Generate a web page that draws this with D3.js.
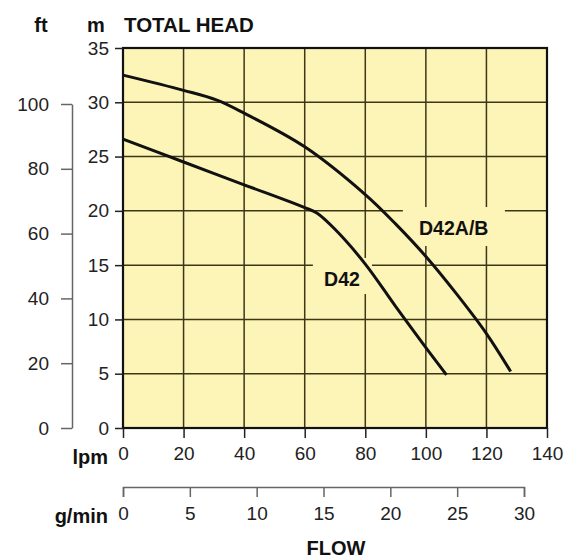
<!DOCTYPE html>
<html>
<head>
<meta charset="utf-8">
<script src="https://cdn.jsdelivr.net/npm/d3@7"></script>
<style>
  body { margin: 0; background: #fff; }
  svg { display: block; font-family: "Liberation Sans", Arial, sans-serif; }
</style>
</head>
<body>
<svg></svg>
<script>
const width = 573;
const height = 558;

const lpmTicks = [0, 20, 40, 60, 80, 100, 120, 140];
const headTicks = [0, 5, 10, 15, 20, 25, 30, 35];
const ftTicks = [0, 20, 40, 60, 80, 100];
const galTicks = [0, 5, 10, 15, 20, 25, 30];

const d42Flow = [0, 20, 40, 60, 64, 70, 80, 90, 100, 106.8];
const d42Head = [26.6, 24.5, 22.4, 20.3, 19.8, 18.3, 15.1, 11.2, 7.4, 4.9];
const d42abFlow = [0, 20, 31, 40, 60, 80, 90, 100, 110, 120, 128];
const d42abHead = [32.5, 31.1, 30.2, 29.0, 25.9, 21.5, 18.8, 15.8, 12.4, 8.7, 5.2];

const seriesNames = ['D42', 'D42A/B'];
const seriesFlow = [d42Flow, d42abFlow];
const seriesHead = [d42Head, d42abHead];
// label anchor (lpm, m) and grid gap box behind each label
const labelPos = [[72.3, 13.1], [109.2, 17.8]];
const gapBox = [[62.7, 82.2, 12.34, 15.66], [92.4, 126.1, 16.76, 20.35]];

const plotLeft = 123, plotRight = 547, plotTop = 48, plotBottom = 428;
const gridColor = '#3d3617';
const axisGrey = '#666';
const fillColor = '#fdf4b8';

window.onload = () => {
  const svg = d3.select('svg')
      .attr('width', width)
      .attr('height', height);

  const x = d3.scaleLinear().domain([0, 140]).range([plotLeft, plotRight]);
  const y = d3.scaleLinear().domain([0, 35]).range([plotBottom, plotTop]);
  const yFt = d3.scaleLinear().domain([0, 100]).range([plotBottom, 104]);
  const xGal = d3.scaleLinear().domain([0, 30]).range([plotLeft, 524]);

  // plot background
  svg.append('rect')
      .attr('x', plotLeft)
      .attr('y', plotTop)
      .attr('width', plotRight - plotLeft)
      .attr('height', plotBottom - plotTop)
      .attr('fill', fillColor);

  // grid
  svg.append('g')
    .selectAll('line')
    .data(lpmTicks.slice(1, -1))
    .join('line')
      .attr('x1', d => x(d)).attr('x2', d => x(d))
      .attr('y1', plotTop).attr('y2', plotBottom)
      .attr('stroke', gridColor)
      .attr('stroke-width', 1.5);

  svg.append('g')
    .selectAll('line')
    .data(headTicks.slice(1, -1))
    .join('line')
      .attr('x1', plotLeft).attr('x2', plotRight)
      .attr('y1', d => y(d)).attr('y2', d => y(d))
      .attr('stroke', gridColor)
      .attr('stroke-width', 1.5);

  // gaps in grid behind curve labels
  svg.append('g')
    .selectAll('rect')
    .data(gapBox)
    .join('rect')
      .attr('x', d => x(d[0]))
      .attr('width', d => x(d[1]) - x(d[0]))
      .attr('y', d => y(d[3]))
      .attr('height', d => y(d[2]) - y(d[3]))
      .attr('fill', fillColor);

  // frame
  svg.append('rect')
      .attr('x', plotLeft)
      .attr('y', plotTop)
      .attr('width', plotRight - plotLeft)
      .attr('height', plotBottom - plotTop)
      .attr('fill', 'none')
      .attr('stroke', '#111')
      .attr('stroke-width', 2.2);

  // head axis (m)
  const yAxis = svg.append('g')
      .attr('transform', `translate(${plotLeft},0)`)
      .call(d3.axisLeft(y).tickValues(headTicks).tickSize(8).tickPadding(6));
  yAxis.select('.domain').remove();
  yAxis.selectAll('line').attr('stroke', '#222').attr('stroke-width', 1.5);
  yAxis.selectAll('text')
      .attr('font-size', 19)
      .attr('fill', '#222')
      .attr('font-family', '"Liberation Sans", Arial, sans-serif');

  // ft axis
  const ftAxis = svg.append('g')
      .attr('transform', 'translate(72,0)')
      .call(d3.axisLeft(yFt).tickValues(ftTicks).tickSize(11).tickPadding(12).tickSizeOuter(0));
  ftAxis.select('.domain').attr('stroke', axisGrey).attr('stroke-width', 1.5);
  ftAxis.selectAll('line').attr('stroke', axisGrey).attr('stroke-width', 1.5);
  ftAxis.selectAll('text')
      .attr('font-size', 19)
      .attr('fill', '#222')
      .attr('font-family', '"Liberation Sans", Arial, sans-serif');

  // lpm axis
  const xAxis = svg.append('g')
      .attr('transform', `translate(0,${plotBottom})`)
      .call(d3.axisBottom(x).tickValues(lpmTicks).tickSize(10).tickPadding(9));
  xAxis.select('.domain').remove();
  xAxis.selectAll('line').attr('stroke', '#222').attr('stroke-width', 1.5);
  xAxis.selectAll('text')
      .attr('font-size', 19)
      .attr('fill', '#222')
      .attr('font-family', '"Liberation Sans", Arial, sans-serif');

  // g/min axis
  const galAxis = svg.append('g')
      .attr('transform', 'translate(0,487)')
      .call(d3.axisBottom(xGal).tickValues(galTicks).tickSize(10).tickSizeOuter(10).tickPadding(10));
  galAxis.select('.domain').attr('stroke', axisGrey).attr('stroke-width', 1.5);
  galAxis.selectAll('line').attr('stroke', axisGrey).attr('stroke-width', 1.5);
  galAxis.selectAll('text')
      .attr('font-size', 19)
      .attr('fill', '#222')
      .attr('font-family', '"Liberation Sans", Arial, sans-serif');

  // curves
  const line = d3.line()
      .x(d => x(d[0]))
      .y(d => y(d[1]))
      .curve(d3.curveCatmullRom.alpha(0.5));

  svg.append('g')
    .selectAll('path')
    .data(seriesFlow.map((f, i) => f.map((v, j) => [v, seriesHead[i][j]])))
    .join('path')
      .attr('d', line)
      .attr('fill', 'none')
      .attr('stroke', '#111')
      .attr('stroke-width', 3);

  svg.append('g')
    .selectAll('text')
    .data(seriesNames)
    .join('text')
      .attr('x', (d, i) => x(labelPos[i][0]))
      .attr('y', (d, i) => y(labelPos[i][1]))
      .attr('text-anchor', 'middle')
      .attr('font-size', 19.5)
      .attr('font-weight', 'bold')
      .attr('fill', '#111')
      .text(d => d);

  // titles
  const bold = (tx, ty, s, anchor, size) => svg.append('text')
      .attr('x', tx)
      .attr('y', ty)
      .attr('text-anchor', anchor)
      .attr('font-size', size)
      .attr('font-weight', 'bold')
      .attr('fill', '#111')
      .text(s);

  bold(124, 32, 'TOTAL HEAD', 'start', 20.5);
  bold(96, 32, 'm', 'middle', 20);
  bold(41, 32, 'ft', 'middle', 20);
  bold(108, 464, 'lpm', 'end', 20);
  bold(108, 523, 'g/min', 'end', 20);
  bold(336, 555, 'FLOW', 'middle', 20);
};
</script>
</body>
</html>
